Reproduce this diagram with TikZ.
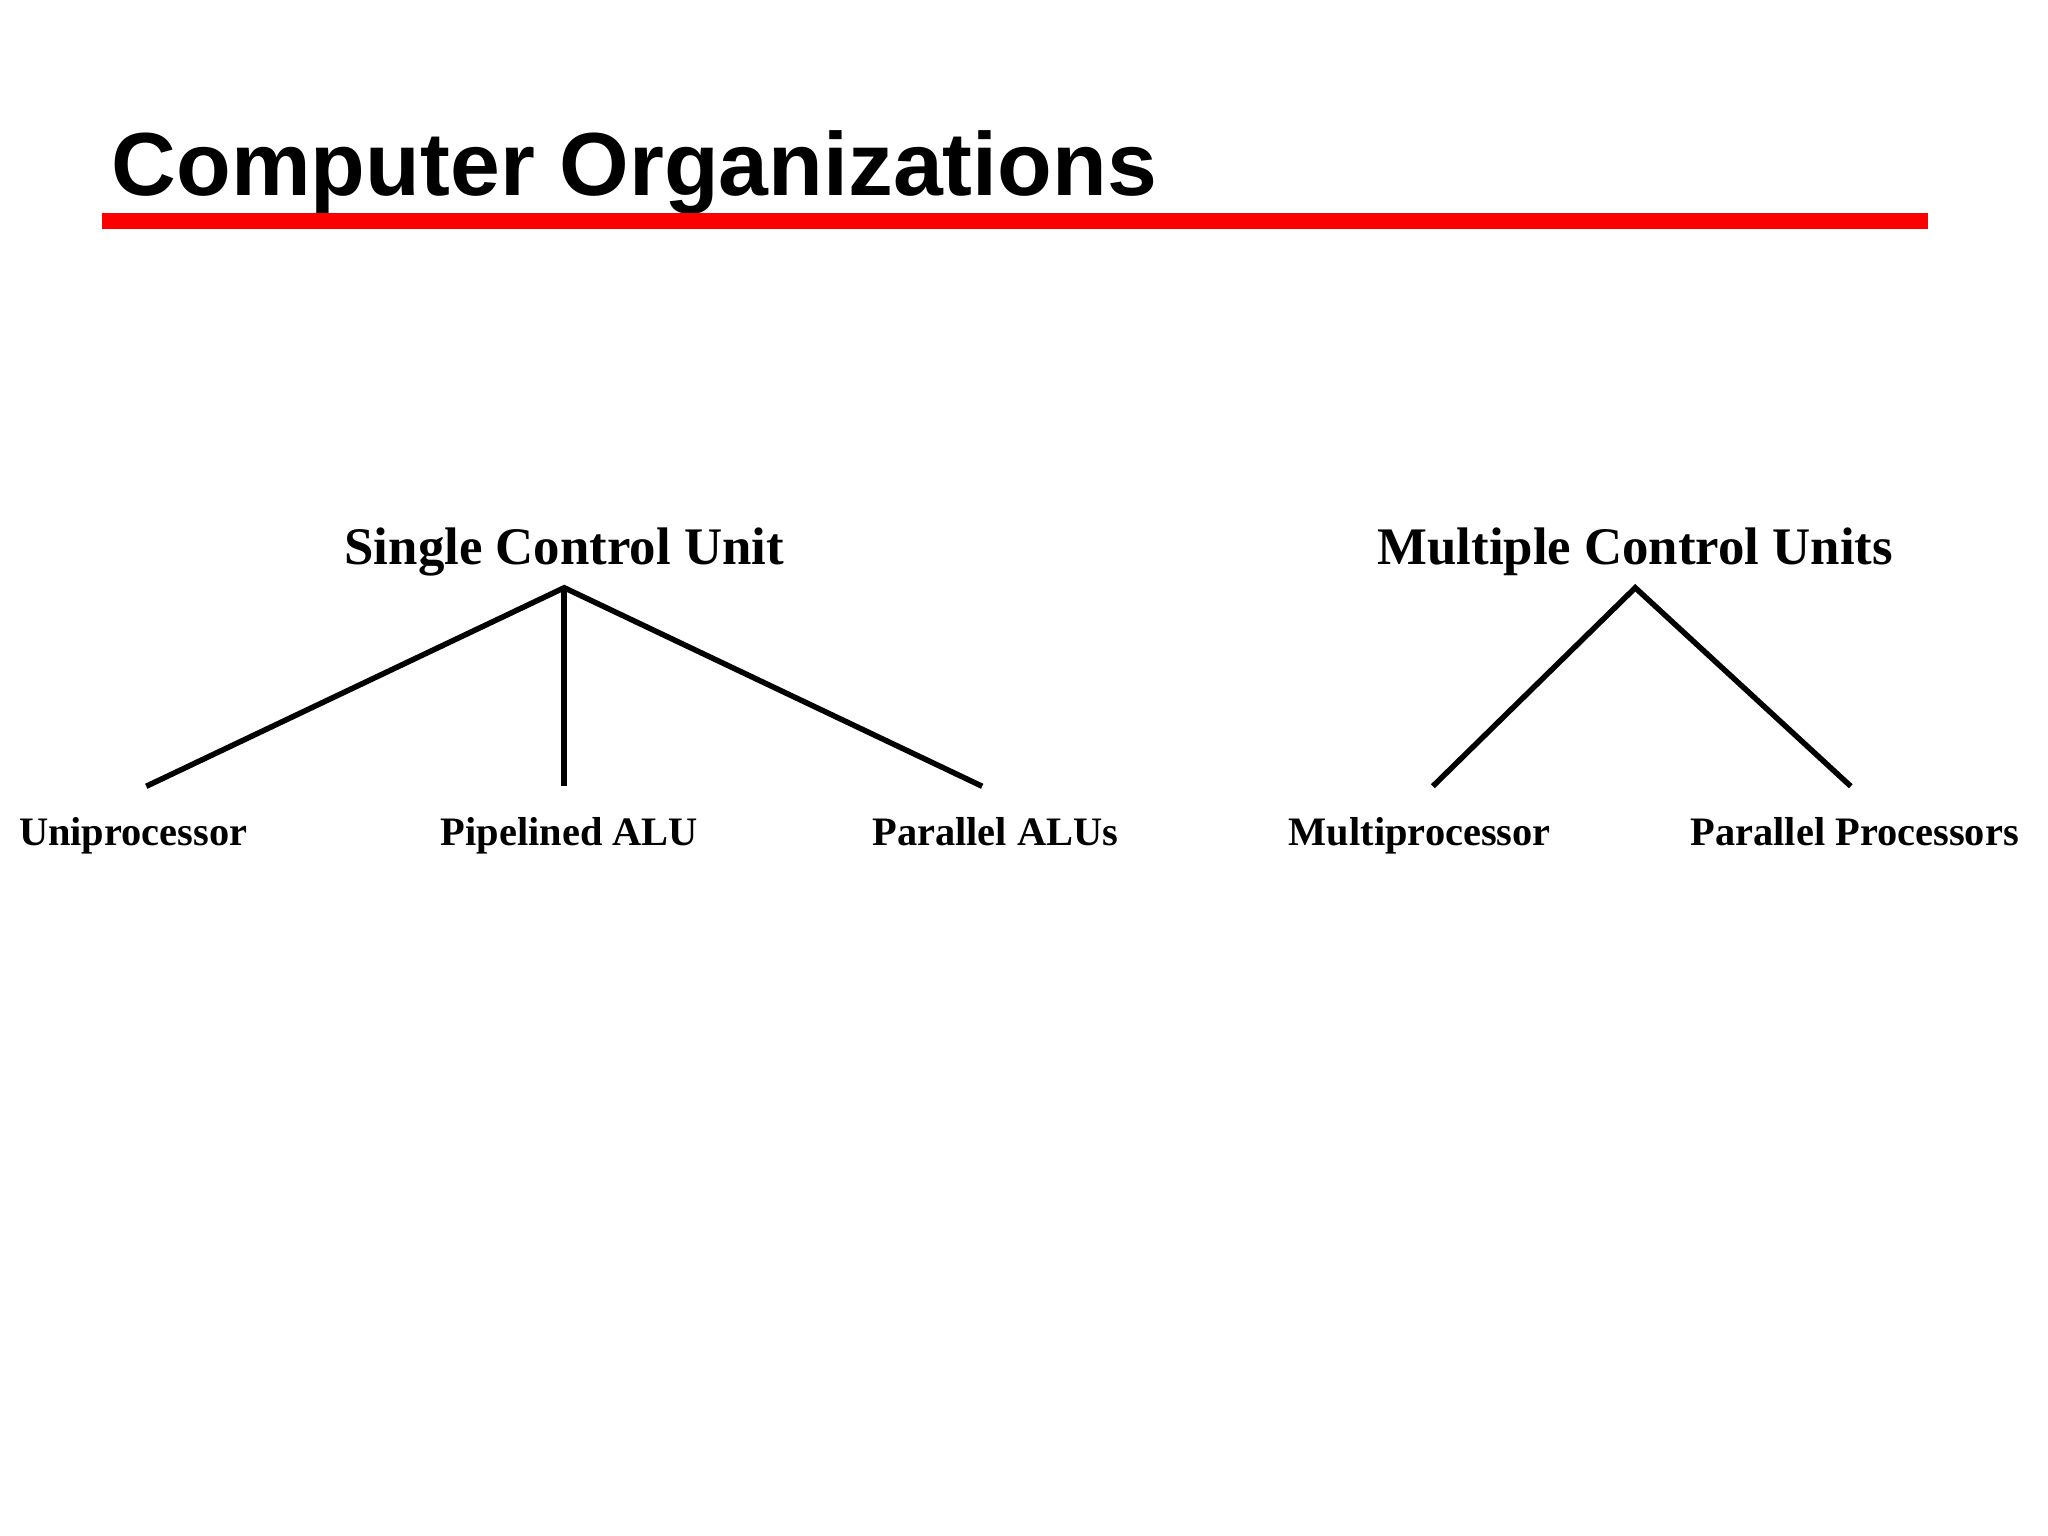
\documentclass[tikz,border=0pt]{standalone}
\usepackage{fontspec}
\setmainfont{Liberation Serif}
\newfontfamily\titlefont{Liberation Sans}
\begin{document}
\begin{tikzpicture}[x=0.01cm,y=-0.01cm,
  head/.style={font=\bfseries\fontsize{11.5}{13}\selectfont,inner sep=0pt,anchor=base},
  leaf/.style={font=\bfseries\fontsize{8.8}{10}\selectfont,inner sep=0pt,anchor=base},
  branch/.style={line width=1.2pt}]
\useasboundingbox (0,0) rectangle (1568,1176);
\node[anchor=base west,inner sep=0pt,font=\titlefont\bfseries\fontsize{19.5}{22}\selectfont] (title) at (85,150) {Computer Organizations};
\fill[red] (78,163) rectangle (1476,175);
\node[head] (scu) at (432,432) {Single Control Unit};
\node[head] (mcu) at (1252,432) {Multiple Control Units};
\coordinate (a1) at (432,450);
\coordinate (a2) at (1252,450);
\coordinate (e1) at (112,602);
\coordinate (e2) at (432,602);
\coordinate (e3) at (752,602);
\coordinate (e4) at (1097,602);
\coordinate (e5) at (1417,602);
\draw[branch] (e1) -- (a1) -- (e3);
\draw[branch] (a1) -- (e2);
\draw[branch] (e4) -- (a2) -- (e5);
\node[leaf] (u) at (102,647) {Uniprocessor};
\node[leaf] (p) at (436,647) {Pipelined ALU};
\node[leaf] (pa) at (762,647) {Parallel ALUs};
\node[leaf] (m) at (1087,647) {Multiprocessor};
\node[leaf] (pp) at (1420,647) {Parallel Processors};
\end{tikzpicture}
\end{document}
